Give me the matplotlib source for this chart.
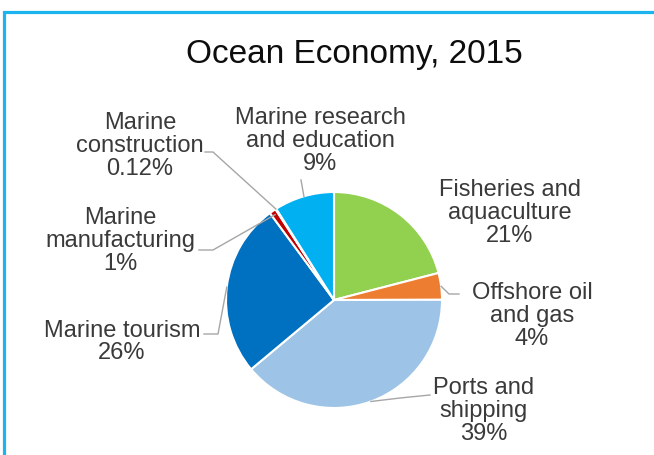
import numpy as np
import matplotlib
matplotlib.use("Agg")
import matplotlib.pyplot as plt
from matplotlib.patches import Rectangle

# data, clockwise from 12 o'clock
sectors = ["Fisheries and\naquaculture", "Offshore oil\nand gas", "Ports and\nshipping",
           "Marine tourism", "Marine\nmanufacturing", "Marine\nconstruction",
           "Marine research\nand education"]
shares = [21, 4, 39, 26, 1, 0.12, 9]
share_labels = ["21%", "4%", "39%", "26%", "1%", "0.12%", "9%"]
colors = ["#92D050", "#ED7D31", "#9DC3E6", "#0070C0", "#C00000", "#A5A5A5", "#00B0F0"]

W, H = 654, 455


def Y(y):
    # pixel row -> data y
    return H - y


fig = plt.figure(figsize=(W / 100, H / 100), dpi=100)
ax = fig.add_axes([0, 0, 1, 1])

cx, cy, r = 334, Y(300), 108
wedges, _ = ax.pie(shares, colors=colors, startangle=90, counterclock=False,
                   center=(cx, cy), radius=r,
                   wedgeprops=dict(edgecolor="white", linewidth=1.5))
ax.set_xlim(0, W)
ax.set_ylim(0, H)
ax.set_aspect("equal")
ax.axis("off")

# outer frame (runs off the right and bottom edges)
ax.add_patch(Rectangle((4, -20), W + 40, Y(11.5) + 20, fill=False,
                       edgecolor="#1CB4EE", linewidth=2.3, clip_on=False))

ax.text(354, Y(55), "Ocean Economy, 2015", ha="center", va="center",
        fontsize=24, family="Liberation Sans", color="#0D0D0D")

# label centres (pixel coords) and leader-line knee points
label_pos = [(510, 213), (532, 316), (484, 411), (122, 342), (120, 241), (140, 146), (320, 141)]
leaders = [
    None,
    [(459, 294), (449, 294)],
    [(430, 395), (400, 398)],
    [(204, 334), (218, 334)],
    [(199, 250), (213, 250)],
    [(205, 152), (213, 152)],
    [(301, 180)],
]
anchor_r = [1.0, 1.0, 1.0, 1.0, 0.96, 1.0, 1.0]

for i, w in enumerate(wedges):
    x, y = label_pos[i]
    ax.text(x, Y(y), sectors[i] + "\n" + share_labels[i], ha="center", va="center",
            multialignment="center", fontsize=17, family="Liberation Sans",
            color="#3A3A3A", linespacing=1.05)
    if leaders[i] is None:
        continue
    mid = np.deg2rad((w.theta1 + w.theta2) / 2)
    ax_pt = (cx + anchor_r[i] * r * np.cos(mid), cy + anchor_r[i] * r * np.sin(mid))
    pts = [(px, Y(py)) for px, py in leaders[i]] + [ax_pt]
    xs, ys = zip(*pts)
    ax.plot(xs, ys, color="#A6A6A6", linewidth=1.0)

fig.savefig("out.png", dpi=100)
